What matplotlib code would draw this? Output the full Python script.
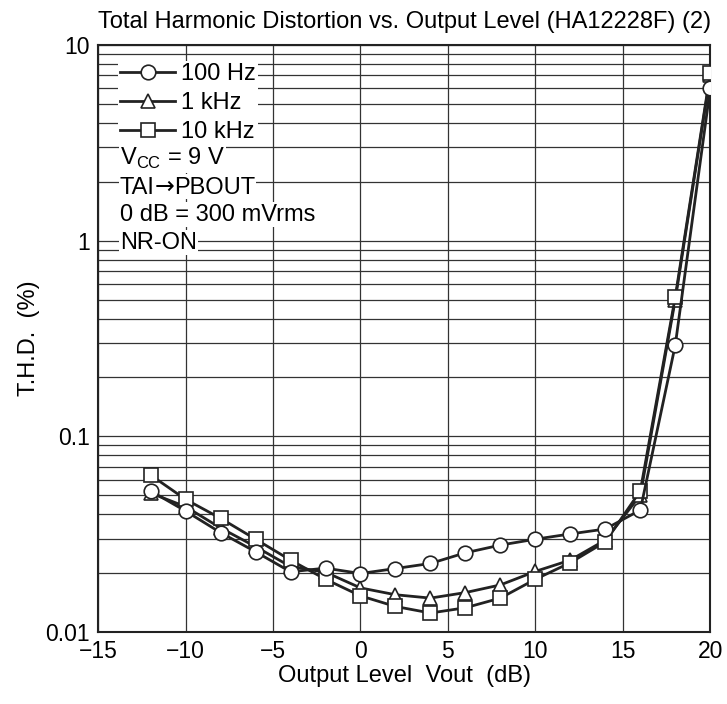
# THD vs output level chart (HA12228F datasheet style)
import numpy as np
import matplotlib
matplotlib.use("Agg")
import matplotlib.pyplot as plt
from matplotlib.offsetbox import TextArea, HPacker, AnchoredOffsetbox

# data
vout_db = [-12, -10, -8, -6, -4, -2, 0, 2, 4, 6, 8, 10, 12, 14, 16, 18, 20]
thd_100hz = [0.0526, 0.0415, 0.0322, 0.0257, 0.0203, 0.0212, 0.0199, 0.0211, 0.0224,
             0.0254, 0.0278, 0.0298, 0.0317, 0.0336, 0.042, 0.293, 6.0]
thd_1khz = [0.0513, 0.0437, 0.0340, 0.0273, 0.0216, 0.0202, 0.0168, 0.0155, 0.0149,
            0.0159, 0.0174, 0.0204, 0.0233, 0.0295, 0.050, 0.50, 7.0]
thd_10khz = [0.0634, 0.0476, 0.0381, 0.0298, 0.0233, 0.0186, 0.0153, 0.0135, 0.0125,
             0.0133, 0.0149, 0.0186, 0.0226, 0.0289, 0.0526, 0.517, 7.16]

x_ticks = [-15, -10, -5, 0, 5, 10, 15, 20]
x_tick_labels = ["\u221215", "\u221210", "\u22125", "0", "5", "10", "15", "20"]
y_ticks = [0.01, 0.1, 1, 10]
y_tick_labels = ["0.01", "0.1", "1", "10"]

font = "Liberation Sans"
fs = 17
plt.rcParams['font.family'] = [font, 'DejaVu Sans']
plt.rcParams['mathtext.fontset'] = 'custom'
plt.rcParams['mathtext.rm'] = font

fig = plt.figure(figsize=(7.27, 7.04), dpi=100)
ax = fig.add_axes([0.135, 0.1023, 0.842, 0.8338])

# plot the three curves
line_kw = dict(color='#222222', lw=2.0, markersize=10.5, markerfacecolor='white',
               markeredgecolor='#222222', markeredgewidth=1.2)
ax.plot(vout_db, thd_1khz, marker='^', label="1 kHz", zorder=3, **line_kw)
ax.plot(vout_db, thd_10khz, marker='s', label="10 kHz", zorder=4, **line_kw)
ax.plot(vout_db, thd_100hz, marker='o', label="100 Hz", zorder=5, **line_kw)

# axes setup
ax.set_yscale('log')
ax.set_xlim(-15, 20)
ax.set_ylim(0.01, 10)
ax.set_xticks(x_ticks)
ax.set_xticklabels(x_tick_labels)
ax.set_yticks(y_ticks)
ax.set_yticklabels(y_tick_labels)
ax.yaxis.set_minor_locator(matplotlib.ticker.LogLocator(base=10, subs=np.arange(2, 10)))
ax.yaxis.set_minor_formatter(matplotlib.ticker.NullFormatter())
ax.tick_params(axis='both', which='both', length=0, labelsize=16.5, pad=6)

ax.set_axisbelow(True)
ax.grid(True, which='major', axis='both', color='#333333', lw=0.9)
ax.grid(True, which='minor', axis='y', color='#333333', lw=0.9)
for s in ax.spines.values():
    s.set_linewidth(1.5)
    s.set_color('#222222')

ax.set_title("Total Harmonic Distortion vs. Output Level (HA12228F) (2)", fontsize=fs, pad=12)
ax.set_xlabel("Output Level  Vout  (dB)", fontsize=fs, labelpad=1)
ax.set_ylabel("T.H.D.  (%)", fontsize=fs, labelpad=4)

# legend in the order of the reference
handles, labels = ax.get_legend_handles_labels()
order = [2, 0, 1]
leg = ax.legend([handles[i] for i in order], [labels[i] for i in order],
                loc='upper left', bbox_to_anchor=(0.032, 0.973), fontsize=fs,
                numpoints=1, handlelength=2.33, handletextpad=0.25, labelspacing=0.3,
                borderpad=0.1, borderaxespad=0, frameon=True, fancybox=False)
leg.get_frame().set_facecolor('white')
leg.get_frame().set_edgecolor('none')
leg.get_frame().set_alpha(1)
leg.set_zorder(6)

# condition notes
box_kw = dict(facecolor='white', edgecolor='none', pad=1)
ax.text(0.036, 0.806, "V$_{\\mathrm{CC}}$ = 9 V", transform=ax.transAxes, fontsize=fs,
        va='center', ha='left', zorder=6, bbox=box_kw)

# TAI -> PBOUT, with a full size arrow
parts = [TextArea("TAI", textprops=dict(fontsize=fs, family=font)),
         TextArea("\u2192", textprops=dict(fontsize=fs, family='DejaVu Sans')),
         TextArea("PBOUT", textprops=dict(fontsize=fs, family=font))]
row = HPacker(children=parts, align='baseline', pad=0, sep=0)
anch = AnchoredOffsetbox(loc='center left', child=row, pad=0.05, borderpad=0,
                         bbox_to_anchor=(0.034, 0.7585), bbox_transform=ax.transAxes,
                         frameon=True)
anch.patch.set_facecolor('white')
anch.patch.set_edgecolor('none')
anch.set_zorder(6)
ax.add_artist(anch)

ax.text(0.036, 0.711, "0 dB = 300 mVrms", transform=ax.transAxes, fontsize=fs,
        va='center', ha='left', zorder=6, bbox=box_kw)
ax.text(0.036, 0.663, "NR-ON", transform=ax.transAxes, fontsize=fs,
        va='center', ha='left', zorder=6, bbox=box_kw)

fig.savefig("out.png", dpi=100)
